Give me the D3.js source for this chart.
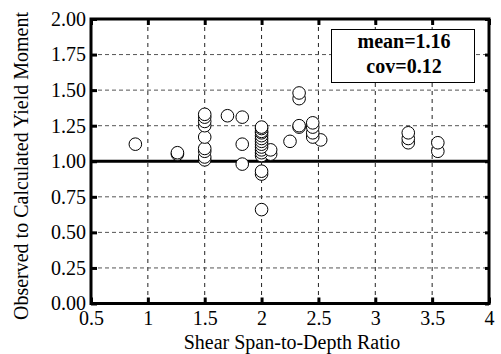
<!DOCTYPE html>
<html>
<head>
<meta charset="utf-8">
<script src="https://cdn.jsdelivr.net/npm/d3@7"></script>
<style>
  body { margin: 0; background: #fff; }
  svg { display: block; font-family: "Liberation Serif", "Times New Roman", serif; }
</style>
</head>
<body>
<svg id="chart" width="501" height="354"></svg>
<script>
// shear span-to-depth ratio vs. observed / calculated yield moment
var spanRatio = [
  0.89,
  1.26, 1.26,
  1.5, 1.5, 1.5, 1.5, 1.5, 1.5, 1.5, 1.5, 1.5,
  1.70,
  1.83, 1.83, 1.83,
  2.0, 2.0, 2.0, 2.0, 2.0, 2.0, 2.0, 2.0, 2.0, 2.0, 2.0, 2.0, 2.0, 2.0, 2.0,
  2.08, 2.08,
  2.25,
  2.33, 2.33, 2.33, 2.33,
  2.45, 2.45, 2.45, 2.45,
  2.52,
  3.29, 3.29, 3.29,
  3.55, 3.55
];
var momentRatio = [
  1.12,
  1.05, 1.06,
  1.33, 1.31, 1.28, 1.25, 1.17, 1.09, 1.07, 1.03, 1.01,
  1.32,
  1.31, 1.12, 0.98,
  1.24, 1.23, 1.21, 1.20, 1.18, 1.16, 1.14, 1.12, 1.10, 1.08, 1.06, 1.04, 0.93, 0.91, 0.66,
  1.08, 1.05,
  1.14,
  1.48, 1.44, 1.25, 1.24,
  1.27, 1.24, 1.20, 1.17,
  1.15,
  1.20, 1.16, 1.13,
  1.13, 1.07
];
var xTicks = [0.5, 1, 1.5, 2, 2.5, 3, 3.5, 4];
var yTicks = [0, 0.25, 0.5, 0.75, 1, 1.25, 1.5, 1.75, 2];
var statLines = ["mean=1.16", "cov=0.12"];

function drawChart() {
  var svg = d3.select("#chart");
  var serif = "'Liberation Serif', 'Times New Roman', serif";

  var pLeft = 91, pRight = 489, pTop = 19, pBottom = 303.5;

  var x = d3.scaleLinear().domain([0.5, 4]).range([pLeft, pRight]);
  var y = d3.scaleLinear().domain([0, 2]).range([pBottom, pTop]);

  // grid
  var grid = svg.append("g");
  grid.append("g").selectAll("line")
    .data(xTicks.filter(d => d > 0.5 && d < 4))
    .join("line")
    .attr("x1", d => x(d)).attr("x2", d => x(d))
    .attr("y1", pTop).attr("y2", pBottom)
    .attr("stroke", "#222")
    .attr("stroke-width", 1)
    .attr("stroke-dasharray", "4,4");
  grid.append("g").selectAll("line")
    .data(yTicks.filter(d => d > 0 && d < 2 && d != 1))
    .join("line")
    .attr("x1", pLeft).attr("x2", pRight)
    .attr("y1", d => y(d)).attr("y2", d => y(d))
    .attr("stroke", "#555")
    .attr("stroke-width", 1)
    .attr("stroke-dasharray", "4,3");

  // solid reference line at 1.0
  svg.append("line")
    .attr("x1", pLeft).attr("x2", pRight)
    .attr("y1", y(1)).attr("y2", y(1))
    .attr("stroke", "#000")
    .attr("stroke-width", 3);

  // axes (ticks point inward)
  var xAxis = svg.append("g")
    .attr("transform", `translate(0,${pBottom})`)
    .call(d3.axisBottom(x).tickValues(xTicks).tickSize(-6).tickPadding(7).tickFormat(d3.format("")));
  var yAxis = svg.append("g")
    .attr("transform", `translate(${pLeft},0)`)
    .call(d3.axisLeft(y).tickValues(yTicks).tickSize(-6).tickPadding(5).tickFormat(d3.format(".2f")));
  var xTopAxis = svg.append("g")
    .attr("transform", `translate(0,${pTop})`)
    .call(d3.axisTop(x).tickValues(xTicks).tickSize(-6).tickFormat(""));
  var yRightAxis = svg.append("g")
    .attr("transform", `translate(${pRight},0)`)
    .call(d3.axisRight(y).tickValues(yTicks).tickSize(-4).tickFormat(""));

  [xAxis, yAxis, xTopAxis, yRightAxis].forEach(g => {
    g.attr("font-family", serif).attr("font-size", 20);
    g.select(".domain").remove();
    g.selectAll(".tick line").attr("stroke", "#000").attr("stroke-width", 3);
    g.selectAll(".tick text").attr("fill", "#000");
  });

  // frame
  svg.append("rect")
    .attr("x", pLeft).attr("y", pTop)
    .attr("width", pRight - pLeft).attr("height", pBottom - pTop)
    .attr("fill", "none")
    .attr("stroke", "#000")
    .attr("stroke-width", 3);

  // points, lowest first so the upper circles sit on top
  var pts = spanRatio.map((d, i) => ({ sr: d, mr: momentRatio[i] }))
    .sort((a, b) => d3.ascending(a.mr, b.mr));
  svg.append("g")
    .selectAll("circle")
    .data(pts)
    .join("circle")
    .attr("cx", d => x(d.sr))
    .attr("cy", d => y(d.mr))
    .attr("r", 6.3)
    .attr("fill", "#fff")
    .attr("stroke", "#000")
    .attr("stroke-width", 1);

  // stats box
  svg.append("rect")
    .attr("x", 331.5).attr("y", 29.5)
    .attr("width", 143).attr("height", 53)
    .attr("fill", "#fff")
    .attr("stroke", "#000")
    .attr("stroke-width", 1);
  svg.append("g")
    .selectAll("text")
    .data(statLines)
    .join("text")
    .attr("x", 404)
    .attr("y", (d, i) => 48 + i * 25)
    .attr("text-anchor", "middle")
    .style("font-size", "20px")
    .style("font-weight", "bold")
    .text(d => d);

  // axis titles
  svg.append("text")
    .attr("x", (pLeft + pRight) / 2 + 2)
    .attr("y", 349)
    .attr("text-anchor", "middle")
    .style("font-size", "20px")
    .text("Shear Span-to-Depth Ratio");
  svg.append("text")
    .attr("transform", `translate(27.5,${(11 + 321) / 2}) rotate(-90)`)
    .attr("text-anchor", "middle")
    .style("font-size", "20px")
    .text("Observed to Calculated Yield Moment");
}

drawChart();
</script>
</body>
</html>
